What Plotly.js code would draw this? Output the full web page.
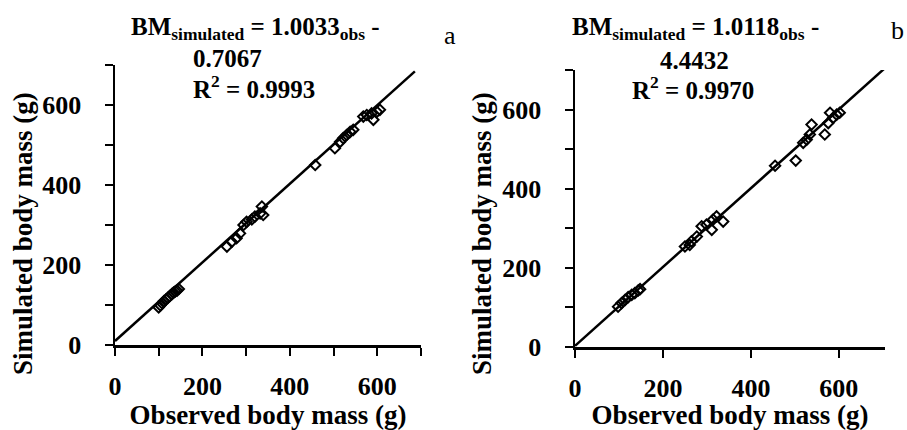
<!DOCTYPE html>
<html>
<head>
<meta charset="utf-8">
<script src="https://cdn.plot.ly/plotly-3.0.1.min.js"></script>
<style>html,body{margin:0;padding:0;background:#fff;}#chart{width:907px;height:430px;}</style>
</head>
<body>
<div id="chart"></div>
<script>
// Panel a: observed vs simulated body mass (g)
const obsA = [100,104,108,112,117,121,125,130,134,138,142,146,
  256,267,278,286,294,301,313,320,332,336,339,
  458,
  503,515,522,530,538,545,
  568,576,587,591,599,606];
const simA = [94,99,104,110,114,118,122,127,131,134,136,140,
  246,258,267,279,300,308,314,321,329,346,325,
  450,
  492,508,517,525,533,538,
  571,575,579,563,583,588];
const fitAx = [0, 686];
const fitAy = [10, 684];

// Panel b
const obsB = [98,106,114,121,129,136,144,148,
  250,261,265,277,288,299,311,314,322,337,
  455,
  502,
  519,527,534,538,
  568,
  576,580,587,595,602];
const simB = [102,111,119,126,132,136,143,146,
  254,258,267,279,305,309,296,322,330,317,
  458,
  471,
  516,524,537,562,
  537,
  566,592,579,587,592];
const fitBx = [0, 705];
const fitBy = [3, 705];

const tickVals = [0, 200, 400, 600];
const tickText = ['0', '200', '400', '600'];

const eqA = ['BM<sub>simulated</sub> = 1.0033<sub>obs</sub> -', '0.7067', 'R<sup>2</sup> = 0.9993'];
const eqB = ['BM<sub>simulated</sub> = 1.0118<sub>obs</sub> -', '4.4432', 'R<sup>2</sup> = 0.9970'];
const panelLabels = ['a', 'b'];
const xTitle = 'Observed body mass (g)';
const yTitle = 'Simulated body mass (g)';

const W = 907, H = 430;
const serif = 'Liberation Serif';
const boldFont = (s) => ({family: serif, size: s, color: '#000', weight: 'bold'});

const markerStyle = {symbol: 'diamond-open', size: 8, color: '#000', line: {width: 2, color: '#000'}};

const traces = [
  {x: fitAx, y: fitAy, mode: 'lines', line: {color: '#000', width: 2.5}, xaxis: 'x', yaxis: 'y', hoverinfo: 'skip'},
  {x: obsA, y: simA, mode: 'markers', marker: markerStyle, xaxis: 'x', yaxis: 'y'},
  {x: fitBx, y: fitBy, mode: 'lines', line: {color: '#000', width: 2.5}, xaxis: 'x2', yaxis: 'y2', hoverinfo: 'skip'},
  {x: obsB, y: simB, mode: 'markers', marker: markerStyle, xaxis: 'x2', yaxis: 'y2'}
];

function axisBase(extra) {
  return Object.assign({
    showgrid: false, zeroline: false, showline: true, linecolor: '#000', linewidth: 2.5,
    ticks: 'outside', ticklen: 8, tickwidth: 2, tickcolor: '#000',
    tickmode: 'array', tickvals: tickVals, ticktext: tickText,
    tickfont: boldFont(26), ticklabelstandoff: 8
  }, extra);
}

const minor = {dtick: 100, ticks: 'outside', ticklen: 8, tickwidth: 2, tickcolor: '#000', showgrid: false};

const layout = {
  width: W, height: H,
  margin: {l: 0, r: 0, t: 0, b: 0},
  paper_bgcolor: '#fff', plot_bgcolor: '#fff',
  showlegend: false,
  font: {family: serif, color: '#000'},
  xaxis: axisBase({domain: [115/W, 421/W], range: [0, 700], anchor: 'y', minor: minor,
    title: {text: xTitle, font: boldFont(27), standoff: 3}}),
  yaxis: axisBase({domain: [1 - 345/H, 1 - 65/H], range: [0, 700], anchor: 'x', minor: minor, ticklabelstandoff: 18}),
  xaxis2: axisBase({domain: [575/W, 885/W], range: [0, 705], anchor: 'y2',
    title: {text: xTitle, font: boldFont(27), standoff: 3}}),
  yaxis2: axisBase({domain: [1 - 347/H, 1 - 70/H], range: [0, 700], anchor: 'x2', minor: minor, ticklabelstandoff: 18}),
  annotations: [
    {text: eqA[0], x: 255/W, y: 1 - 28/H},
    {text: eqA[1], x: 227/W, y: 1 - 58/H},
    {text: eqA[2], x: 254/W, y: 1 - 87/H},
    {text: eqB[0], x: 695/W, y: 1 - 28/H},
    {text: eqB[1], x: 694/W, y: 1 - 60/H},
    {text: eqB[2], x: 693/W, y: 1 - 88/H},
  ].map(a => Object.assign(a, {xref: 'paper', yref: 'paper', xanchor: 'center', yanchor: 'middle', showarrow: false, font: boldFont(25)}))
  .concat([
    {text: panelLabels[0], x: 450/W, y: 1 - 35/H, font: {family: serif, size: 26, color: '#000'}},
    {text: panelLabels[1], x: 897/W, y: 1 - 30/H, font: {family: serif, size: 26, color: '#000'}},
    {text: yTitle, x: 23/W, y: 1 - 234/H, textangle: -90, font: boldFont(27)},
    {text: yTitle, x: 482/W, y: 1 - 234/H, textangle: -90, font: boldFont(27)}
  ].map(a => Object.assign(a, {xref: 'paper', yref: 'paper', xanchor: 'center', yanchor: 'middle', showarrow: false})))
};

Plotly.newPlot('chart', traces, layout, {displayModeBar: false, staticPlot: true});
</script>
</body>
</html>
